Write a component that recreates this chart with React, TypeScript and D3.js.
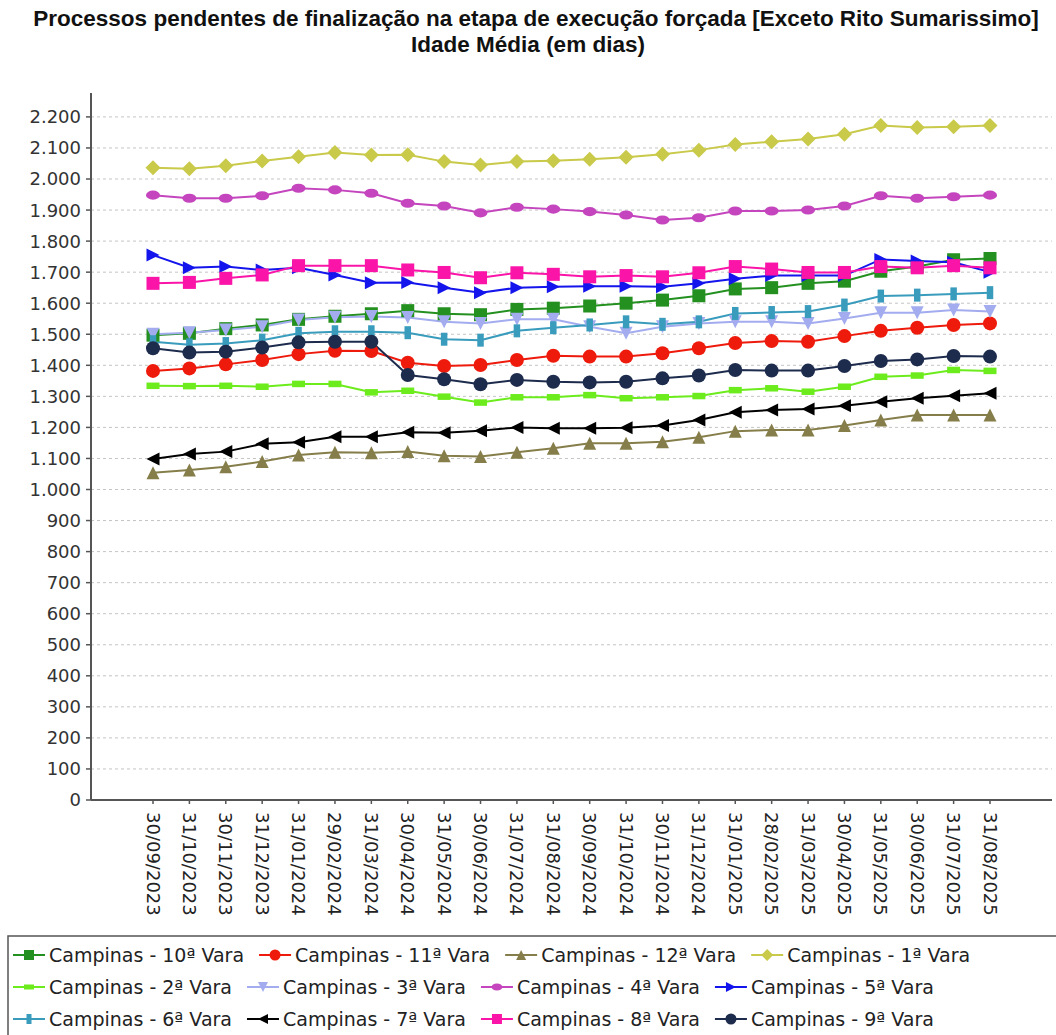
import React, { useMemo } from 'react';
import * as d3 from 'd3';

const dates = [
  '30/09/2023', '31/10/2023', '30/11/2023', '31/12/2023', '31/01/2024', '29/02/2024',
  '31/03/2024', '30/04/2024', '31/05/2024', '30/06/2024', '31/07/2024', '31/08/2024',
  '30/09/2024', '31/10/2024', '30/11/2024', '31/12/2024', '31/01/2025', '28/02/2025',
  '31/03/2025', '30/04/2025', '31/05/2025', '30/06/2025', '31/07/2025', '31/08/2025',
];

const vara10 = [1497, 1503, 1518, 1530, 1548, 1558, 1566, 1576, 1566, 1563, 1580, 1584, 1591, 1600, 1610, 1624, 1646, 1650, 1664, 1671, 1703, 1718, 1740, 1744];
const vara11 = [1382, 1390, 1403, 1417, 1436, 1447, 1446, 1408, 1398, 1401, 1417, 1431, 1428, 1428, 1439, 1455, 1472, 1478, 1476, 1494, 1511, 1521, 1530, 1535];
const vara12 = [1054, 1063, 1073, 1090, 1111, 1120, 1118, 1122, 1109, 1106, 1120, 1133, 1149, 1149, 1154, 1168, 1188, 1192, 1192, 1206, 1224, 1240, 1240, 1240];
const vara1 = [2036, 2033, 2043, 2058, 2072, 2085, 2077, 2078, 2056, 2045, 2056, 2059, 2064, 2070, 2080, 2093, 2111, 2120, 2129, 2144, 2172, 2166, 2168, 2172];
const vara2 = [1334, 1333, 1334, 1331, 1340, 1340, 1313, 1318, 1299, 1280, 1297, 1297, 1304, 1294, 1297, 1301, 1320, 1326, 1315, 1331, 1363, 1367, 1385, 1382];
const vara3 = [1500, 1505, 1514, 1524, 1546, 1555, 1557, 1554, 1540, 1535, 1548, 1548, 1524, 1503, 1524, 1535, 1540, 1540, 1535, 1551, 1569, 1569, 1578, 1573];
const vara4 = [1948, 1938, 1938, 1946, 1970, 1965, 1954, 1922, 1913, 1891, 1909, 1903, 1895, 1884, 1868, 1875, 1897, 1897, 1900, 1913, 1946, 1938, 1943, 1948];
const vara5 = [1755, 1714, 1718, 1707, 1714, 1691, 1666, 1667, 1650, 1634, 1650, 1653, 1655, 1655, 1653, 1664, 1679, 1689, 1689, 1689, 1741, 1736, 1732, 1700];
const vara6 = [1476, 1466, 1470, 1481, 1503, 1508, 1508, 1505, 1484, 1481, 1511, 1521, 1530, 1540, 1532, 1540, 1567, 1570, 1573, 1594, 1623, 1626, 1630, 1634];
const vara7 = [1098, 1114, 1122, 1147, 1152, 1170, 1170, 1184, 1183, 1189, 1200, 1197, 1197, 1199, 1206, 1224, 1249, 1256, 1259, 1270, 1283, 1294, 1302, 1310];
const vara8 = [1664, 1667, 1680, 1691, 1721, 1721, 1721, 1707, 1699, 1682, 1698, 1693, 1685, 1689, 1685, 1698, 1718, 1710, 1699, 1699, 1718, 1714, 1721, 1714];
const vara9 = [1455, 1441, 1444, 1457, 1474, 1476, 1476, 1369, 1355, 1339, 1353, 1347, 1345, 1347, 1358, 1367, 1385, 1383, 1383, 1398, 1414, 1419, 1430, 1428];

const yTicks = d3.range(0, 2201, 100);

type Shape = 'square' | 'circle' | 'triUp' | 'diamond' | 'hRect' | 'triDown' | 'ellipse' | 'triRight' | 'vRect' | 'triLeft';

const series: { name: string; values: number[]; color: string; shape: Shape }[] = [
  { name: 'Campinas - 10ª Vara', values: vara10, color: '#23901f', shape: 'square' },
  { name: 'Campinas - 11ª Vara', values: vara11, color: '#ee1a0c', shape: 'circle' },
  { name: 'Campinas - 12ª Vara', values: vara12, color: '#867e4a', shape: 'triUp' },
  { name: 'Campinas - 1ª Vara', values: vara1, color: '#c9c94a', shape: 'diamond' },
  { name: 'Campinas - 2ª Vara', values: vara2, color: '#6cec1c', shape: 'hRect' },
  { name: 'Campinas - 3ª Vara', values: vara3, color: '#a3acef', shape: 'triDown' },
  { name: 'Campinas - 4ª Vara', values: vara4, color: '#c445bd', shape: 'ellipse' },
  { name: 'Campinas - 5ª Vara', values: vara5, color: '#1414ec', shape: 'triRight' },
  { name: 'Campinas - 6ª Vara', values: vara6, color: '#3a9cbd', shape: 'vRect' },
  { name: 'Campinas - 7ª Vara', values: vara7, color: '#000000', shape: 'triLeft' },
  { name: 'Campinas - 8ª Vara', values: vara8, color: '#fa14a8', shape: 'square' },
  { name: 'Campinas - 9ª Vara', values: vara9, color: '#1d2b4d', shape: 'circle' },
];

const Marker = ({ shape, x, y, color, s = 6.5 }: { shape: Shape; x: number; y: number; color: string; s?: number }) => {
  switch (shape) {
    case 'square':
      return <rect x={x - s} y={y - s} width={s * 2} height={s * 2} fill={color} />;
    case 'circle':
      return <circle cx={x} cy={y} r={s + 0.5} fill={color} />;
    case 'triUp':
      return <polygon points={`${x},${y - s} ${x + s},${y + s} ${x - s},${y + s}`} fill={color} />;
    case 'triDown':
      return <polygon points={`${x - s},${y - s} ${x + s},${y - s} ${x},${y + s}`} fill={color} />;
    case 'triRight':
      return <polygon points={`${x - s},${y - s} ${x + s},${y} ${x - s},${y + s}`} fill={color} />;
    case 'triLeft':
      return <polygon points={`${x + s},${y - s} ${x - s},${y} ${x + s},${y + s}`} fill={color} />;
    case 'diamond':
      return <polygon points={`${x},${y - s - 1} ${x + s + 1},${y} ${x},${y + s + 1} ${x - s - 1},${y}`} fill={color} />;
    case 'hRect':
      return <rect x={x - s} y={y - s / 2} width={s * 2} height={s} fill={color} />;
    case 'vRect':
      return <rect x={x - s / 2} y={y - s} width={s} height={s * 2} fill={color} />;
    case 'ellipse':
      return <ellipse cx={x} cy={y} rx={s + 0.5} ry={s * 0.7} fill={color} />;
  }
};

export default function App() {
  const width = 1056;
  const height = 1035;
  const plot = { left: 91, right: 1052, top: 93, bottom: 800 };

  const x = d3.scalePoint<string>().domain(dates).range([153, 990]);
  const y = d3.scaleLinear().domain([0, 2277]).range([plot.bottom, plot.top]);

  const line = d3
    .line<number>()
    .x((_, i) => x(dates[i])!)
    .y((d) => y(d));

  const legendFont = '19px "DejaVu Sans"';
  const legendItems = useMemo(() => {
    const ctx = document.createElement('canvas').getContext('2d')!;
    ctx.font = legendFont;
    const rows: { s: (typeof series)[number]; x: number; row: number }[] = [];
    let cx = 13;
    let row = 0;
    series.forEach((s, i) => {
      if (i > 0 && i % 4 === 0) {
        row += 1;
        cx = 13;
      }
      rows.push({ s, x: cx, row });
      cx += 36 + ctx.measureText(s.name).width + 15;
    });
    return rows;
  }, []);

  return (
    <svg width={width} height={height} style={{ display: 'block', position: 'absolute', left: 0, top: 0 }}>
      <rect width={width} height={height} fill="#fff" />
      <text x={width / 2 + 8} y={26} textAnchor="middle" fontFamily='"Liberation Sans", Arial, sans-serif' fontWeight="bold" fontSize={22.5} fill="#111">
        Processos pendentes de finalização na etapa de execução forçada [Exceto Rito Sumarissimo]
      </text>
      <text x={width / 2} y={52} textAnchor="middle" fontFamily='"Liberation Sans", Arial, sans-serif' fontWeight="bold" fontSize={22.5} fill="#111">
        Idade Média (em dias)
      </text>

      {/* grid */}
      {yTicks.map((t) => (
        <line key={t} x1={plot.left} x2={plot.right} y1={y(t)} y2={y(t)} stroke="#c4c4c4" strokeDasharray="3,3" strokeWidth={1} />
      ))}

      {/* y axis */}
      <line x1={plot.left} x2={plot.left} y1={plot.top} y2={plot.bottom} stroke="#555" strokeWidth={2} />
      {yTicks.map((t) => (
        <g key={t}>
          <line x1={plot.left - 5} x2={plot.left} y1={y(t)} y2={y(t)} stroke="#555" strokeWidth={1.5} />
          <text x={plot.left - 10} y={y(t)} dy="0.36em" textAnchor="end" fontFamily='"DejaVu Sans"' fontSize={18} fill="#333">
            {d3.format(',')(t).replace(/,/g, '.')}
          </text>
        </g>
      ))}

      {/* x axis */}
      <line x1={plot.left} x2={plot.right} y1={plot.bottom} y2={plot.bottom} stroke="#555" strokeWidth={2} />
      {dates.map((d) => (
        <g key={d}>
          <line x1={x(d)} x2={x(d)} y1={plot.bottom} y2={plot.bottom + 4} stroke="#555" strokeWidth={1.5} />
          <text
            transform={`translate(${x(d)},${plot.bottom + 12}) rotate(90)`}
            dy="0.36em"
            fontFamily='"DejaVu Sans"'
            fontSize={18}
            fill="#222"
          >
            {d}
          </text>
        </g>
      ))}

      {/* lines */}
      {series.map((s) => (
        <path key={s.name} d={line(s.values)!} fill="none" stroke={s.color} strokeWidth={2} />
      ))}
      {/* markers */}
      {series.map((s) =>
        s.values.map((v, i) => <Marker key={s.name + i} shape={s.shape} x={x(dates[i])!} y={y(v)} color={s.color} />)
      )}

      {/* legend */}
      <rect x={8} y={936} width={1060} height={110} fill="#fff" stroke="#555" strokeWidth={1.5} />
      {legendItems.map(({ s, x: lx, row }) => {
        const ly = 955 + row * 32;
        return (
          <g key={s.name}>
            <line x1={lx} x2={lx + 32} y1={ly} y2={ly} stroke={s.color} strokeWidth={2} />
            <Marker shape={s.shape} x={lx + 16} y={ly} color={s.color} s={5} />
            <text x={lx + 36} y={ly} dy="0.36em" fontFamily='"DejaVu Sans"' fontSize={19} fill="#222">
              {s.name}
            </text>
          </g>
        );
      })}
    </svg>
  );
}
